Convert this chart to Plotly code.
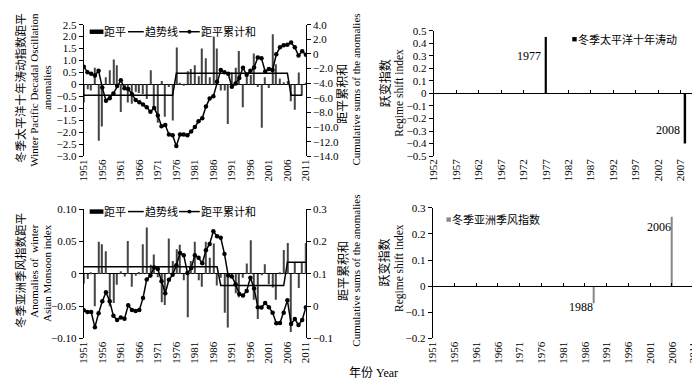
import plotly.graph_objects as go

# ---------------- data ----------------
years = list(range(1951, 2012))

pdo_anom = [-0.75, -0.2, -0.25, 0.7, -2.35, -1.75, 0.3, 0.6, 1.05, 0.8,
            -1.15, -0.15, -0.75, -0.8, -0.3, -0.35, -0.4, -0.6, 0.6, -1.0,
            -1.6, 0.15, -1.35, -0.1, -1.5, 1.55, 0.05, -0.05, 0.55, 0.65,
            0.8, 0.35, 1.5, 1.1, 0.3, 2.0, 1.5, -0.25, -0.25, -1.65,
            0.5, 0.7, 1.4, -0.95, 0.5, 0.4, 1.3, -0.1, -1.8, 0.3,
            -0.15, 2.1, 0.85, 0.25, 0.1, 0.15, -0.7, -1.05, 0.5, -0.45,
            0.05]
pdo_cum = [-1.75, -2.5, -2.7, -2.95, -2.3, -4.6, -6.4, -6.05, -5.4, -4.4,
           -3.6, -4.7, -4.8, -5.5, -6.3, -6.6, -6.9, -7.3, -7.9, -7.4,
           -8.4, -9.9, -9.7, -11.0, -11.1, -12.6, -11.0, -11.0, -11.1, -10.6,
           -10.0, -9.2, -8.8, -7.2, -6.1, -5.8, -3.8, -2.2, -2.5, -2.7,
           -4.5, -4.05, -3.3, -1.9, -2.85, -2.3, -1.85, -0.5, -0.6, -2.4,
           -2.05, -2.2, -0.05, 0.9, 1.2, 1.25, 1.55, 0.9, -0.2, 0.35,
           -0.1]
pdo_trend_years = [1951, 1975, 1976, 2006, 2007, 2010]
pdo_trend_vals = [-0.45, -0.45, 0.47, 0.47, -0.45, -0.45]

ami_anom = [-0.015, -0.008, 0.001, -0.05, 0.05, 0.046, 0.035, -0.05, -0.045, -0.017,
            0.004, -0.004, 0.051, -0.02, -0.003, 0.003, 0.046, 0.072, 0.014, 0.03,
            -0.005, -0.044, -0.048, 0.055, 0.02, 0.038, 0.045, -0.01, -0.067, 0.02,
            0.05, -0.01, -0.02, 0.05, 0.025, 0.047, -0.018, -0.006, -0.06, -0.083,
            -0.004, -0.03, -0.036, -0.006, 0.016, 0.052, -0.04, -0.07, -0.002, 0.015,
            -0.016, -0.021, -0.04, 0.002, 0.037, 0.048, -0.09, 0.018, -0.022, 0.018,
            0.048]
ami_cum = [-0.013, -0.018, -0.018, -0.065, -0.022, 0.015, 0.043, 0.015, -0.03, -0.043,
           -0.035, -0.039, 0.003, -0.012, -0.015, -0.012, 0.025, 0.083, 0.095, 0.12,
           0.115, 0.077, 0.04, 0.082, 0.097, 0.127, 0.165, 0.158, 0.103, 0.118,
           0.158, 0.15, 0.133, 0.173, 0.193, 0.232, 0.217, 0.212, 0.162, 0.095,
           0.092, 0.068, 0.038, 0.033, 0.047, 0.088, 0.055, -0.003, -0.004, 0.01,
           -0.003, -0.02, -0.053, -0.052, -0.02, 0.018, -0.055, -0.04, -0.058, -0.043,
           -0.003]
ami_trend_years = [1951, 1987, 1988, 2005, 2006, 2011]
ami_trend_vals = [0.011, 0.011, -0.018, -0.018, 0.018, 0.018]

rs_pdo_years = [1977, 2008]
rs_pdo_vals = [0.45, -0.40]
rs_ami_years = [1988, 2006]
rs_ami_vals = [-0.065, 0.265]

left_ticks_years = list(range(1951, 2012, 5))
tr_ticks_years = list(range(1952, 2008, 5))
br_ticks_years = list(range(1951, 2012, 5))

pdo_left_vals = [2.5, 2.0, 1.5, 1.0, 0.5, 0, -0.5, -1.0, -1.5, -2.0, -2.5, -3.0]
pdo_left_text = ["2.5", "2.0", "1.5", "1.0", "0.5", "0", "−0.5", "−1.0", "−1.5", "−2.0", "−2.5", "−3.0"]
pdo_right_vals = [4, 2, 0, -2, -4, -6, -8, -10, -12, -14]
pdo_right_text = ["4.0", "2.0", "0", "−2.0", "−4.0", "−6.0", "−8.0", "−10.0", "−12.0", "−14.0"]
ami_left_vals = [0.1, 0.05, 0, -0.05, -0.1]
ami_left_text = ["0.10", "0.05", "0", "−0.05", "−0.10"]
ami_right_vals = [0.3, 0.2, 0.1, 0, -0.1]
ami_right_text = ["0.3", "0.2", "0.1", "0", "−0.1"]
rs1_vals = [0.5, 0.4, 0.3, 0.2, 0.1, 0, -0.1, -0.2, -0.3, -0.4, -0.5]
rs1_text = ["0.5", "0.4", "0.3", "0.2", "0.1", "0", "−0.1", "−0.2", "−0.3", "−0.4", "−0.5"]
rs2_vals = [0.3, 0.2, 0.1, 0, -0.1, -0.2]
rs2_text = ["0.3", "0.2", "0.1", "0", "−0.1", "−0.2"]

# ---------------- figure ----------------
W, H = 700, 381
FONT = "Liberation Serif, Noto Sans CJK SC"


def px(xp):
    return xp / W


def py(yp):
    return 1 - yp / H


fig = go.Figure()

# top-left
fig.add_trace(go.Bar(x=years, y=pdo_anom, width=0.3, marker=dict(color="#444", line=dict(width=0)),
                     name="距平", xaxis="x", yaxis="y"))
fig.add_trace(go.Scatter(x=pdo_trend_years, y=pdo_trend_vals, mode="lines", line=dict(color="black", width=1.5),
                         name="趋势线", xaxis="x", yaxis="y"))
fig.add_trace(go.Scatter(x=years, y=pdo_cum, mode="lines+markers", line=dict(color="black", width=1.5),
                         marker=dict(size=4.5, color="black"), name="距平累计和", xaxis="x", yaxis="y2"))
# bottom-left
fig.add_trace(go.Bar(x=years, y=ami_anom, width=0.3, marker=dict(color="#444", line=dict(width=0)),
                     name="距平", xaxis="x2", yaxis="y3"))
fig.add_trace(go.Scatter(x=ami_trend_years, y=ami_trend_vals, mode="lines", line=dict(color="black", width=1.5),
                         name="趋势线", xaxis="x2", yaxis="y3"))
fig.add_trace(go.Scatter(x=years, y=ami_cum, mode="lines+markers", line=dict(color="black", width=1.5),
                         marker=dict(size=4.5, color="black"), name="距平累计和", xaxis="x2", yaxis="y4"))
# top-right
fig.add_trace(go.Bar(x=rs_pdo_years, y=rs_pdo_vals, width=0.4, marker=dict(color="black", line=dict(width=0)),
                     name="冬季太平洋十年涛动", xaxis="x3", yaxis="y5"))
# bottom-right
fig.add_trace(go.Bar(x=rs_ami_years, y=rs_ami_vals, width=0.35, marker=dict(color="#888", line=dict(width=0)),
                     name="冬季亚洲季风指数", xaxis="x4", yaxis="y6"))
# dummy traces so zero-line axes are drawn
fig.add_trace(go.Scatter(x=[None], y=[None], xaxis="x5", yaxis="y5", hoverinfo="skip"))
fig.add_trace(go.Scatter(x=[None], y=[None], xaxis="x6", yaxis="y6", hoverinfo="skip"))

tickfont = dict(family=FONT, size=11, color="black")
yax = dict(showline=True, linecolor="black", linewidth=1, ticks="outside", ticklen=4, tickcolor="black",
           showgrid=False, zeroline=False, tickfont=tickfont)
xax = dict(showline=False, ticks="", showgrid=False, zeroline=False, tickangle=-90, tickfont=tickfont)

dom_tl_x = [px(71), px(297)]
dom_tl_y = [py(147), py(11)]
dom_bl_y = [py(335), py(201.7)]
dom_tr_x = [px(427), px(698)]
dom_tr_y = [py(146.7), py(17.3)]
dom_br_x = [px(426), px(696)]
dom_br_y = [py(335), py(200)]

fig.update_layout(
    width=W, height=H, autosize=False,
    margin=dict(l=0, r=0, t=0, b=0),
    paper_bgcolor="white", plot_bgcolor="white",
    font=dict(family=FONT, size=11, color="black"),
    showlegend=False,
    xaxis=dict(xax, domain=dom_tl_x, anchor="y", range=[1951, 2011], tickvals=left_ticks_years),
    yaxis=dict(yax, domain=dom_tl_y, anchor="x", range=[-3, 2.5], tickvals=pdo_left_vals, ticktext=pdo_left_text,
               zeroline=True, zerolinecolor="black", zerolinewidth=1),
    yaxis2=dict(yax, overlaying="y", side="right", anchor="x", range=[-14, 4], tickvals=pdo_right_vals,
                ticktext=pdo_right_text),
    xaxis2=dict(xax, domain=dom_tl_x, anchor="y3", range=[1951, 2011], tickvals=left_ticks_years),
    yaxis3=dict(yax, domain=dom_bl_y, anchor="x2", range=[-0.1, 0.1], tickvals=ami_left_vals,
                ticktext=ami_left_text, zeroline=True, zerolinecolor="black", zerolinewidth=1),
    yaxis4=dict(yax, overlaying="y3", side="right", anchor="x2", range=[-0.1, 0.3], tickvals=ami_right_vals,
                ticktext=ami_right_text),
    xaxis3=dict(xax, domain=dom_tr_x, anchor="y5", range=[1952, 2011.3], tickvals=tr_ticks_years),
    yaxis5=dict(yax, domain=dom_tr_y, anchor="x3", range=[-0.5, 0.5], tickvals=rs1_vals, ticktext=rs1_text),
    xaxis4=dict(xax, domain=dom_br_x, anchor="y6", range=[1951, 2012], tickvals=br_ticks_years),
    yaxis6=dict(yax, domain=dom_br_y, anchor="x4", range=[-0.2, 0.3], tickvals=rs2_vals, ticktext=rs2_text),
    xaxis5=dict(overlaying="x3", anchor="free", position=(dom_tr_y[0] + dom_tr_y[1]) / 2,
                range=[1952, 2011.3], showline=True, linecolor="black", linewidth=1, ticks="inside",
                ticklen=3, tickcolor="black", tickvals=list(range(1957, 2012, 5)), showticklabels=False,
                showgrid=False, zeroline=False),
    xaxis6=dict(overlaying="x4", anchor="free", position=dom_br_y[0] + 0.4 * (dom_br_y[1] - dom_br_y[0]),
                range=[1951, 2012], showline=True, linecolor="black", linewidth=1, ticks="inside",
                ticklen=3, tickcolor="black", tickvals=list(range(1956, 2012, 5)), showticklabels=False,
                showgrid=False, zeroline=False),
)


def ann(text, xp, yp, size=11, angle=-90, xanchor="center"):
    fig.add_annotation(text=text, x=px(xp), y=py(yp), xref="paper", yref="paper", showarrow=False,
                       textangle=angle, xanchor=xanchor, yanchor="middle", borderpad=0,
                       font=dict(family=FONT, size=size, color="black"))


def pshape(kind, x0, y0, x1, y1, color="black", fill=True, width=1.5):
    fig.add_shape(type=kind, xref="paper", yref="paper", x0=px(x0), x1=px(x1), y0=py(y0), y1=py(y1),
                  line=dict(color=color, width=0 if (fill and kind != "line") else width),
                  fillcolor=color if (fill and kind != "line") else None)


# custom legends for the anomaly panels
for ly in (18.3, 204):
    pshape("rect", 77, ly - 2.3, 91, ly + 2.3)
    ann("距平", 91, ly, 11, angle=0, xanchor="left")
    pshape("line", 116, ly, 132, ly, fill=False)
    ann("趋势线", 132, ly, 11, angle=0, xanchor="left")
    pshape("line", 168, ly, 189, ly, fill=False)
    pshape("circle", 176.5, ly - 2, 180.5, ly + 2)
    ann("距平累计和", 189, ly, 11, angle=0, xanchor="left")

# legends for the regime shift panels
pshape("rect", 568, 23.8, 572.5, 28.3)
ann("冬季太平洋十年涛动", 572.5, 26, 11, angle=0, xanchor="left")
pshape("rect", 440, 210, 444.5, 214.5, color="#888")
ann("冬季亚洲季风指数", 444.5, 212.3, 11, angle=0, xanchor="left")

# left-panel axis titles
ann("冬季太平洋十年涛动指数距平", 6.5, 76, 11.5)
ann("Winter Pacific Decadal Oscillation", 19.5, 78, 11)
ann("anomalies", 33, 76, 11)
ann("距平累积和", 335, 82, 12)
ann("Cumulative sums of the anomalies", 348, 78, 11)

ann("冬季亚洲季风指数距平", 6.5, 265, 11.5)
ann("Anomalies of  winter", 20.5, 265, 11)
ann("Asian Monsoon index", 33, 267, 11)
ann("距平累积和", 335, 265, 12)
ann("Cumulative sums of the anomalies", 348, 265, 11)

# right-panel axis titles
ann("跃变指数", 378, 72, 12)
ann("Regime shift index", 392, 81, 11.5)
ann("跃变指数", 377, 257, 12)
ann("Regime shift index", 392, 262, 11.5)

ann("年份 Year", 366, 371, 12, angle=0)

# shift-year labels
lab = dict(family=FONT, size=12, color="black")
fig.add_annotation(text="1977", x=1976.3, y=0.30, xref="x3", yref="y5", showarrow=False, xanchor="right",
                   yanchor="middle", font=lab)
fig.add_annotation(text="2008", x=2007.3, y=-0.29, xref="x3", yref="y5", showarrow=False, xanchor="right",
                   yanchor="middle", font=lab)
fig.add_annotation(text="1988", x=1988.4, y=-0.079, xref="x4", yref="y6", showarrow=False, xanchor="right",
                   yanchor="middle", font=lab)
fig.add_annotation(text="2006", x=2006.2, y=0.226, xref="x4", yref="y6", showarrow=False, xanchor="right",
                   yanchor="middle", font=lab)

fig.write_html("out.html")
